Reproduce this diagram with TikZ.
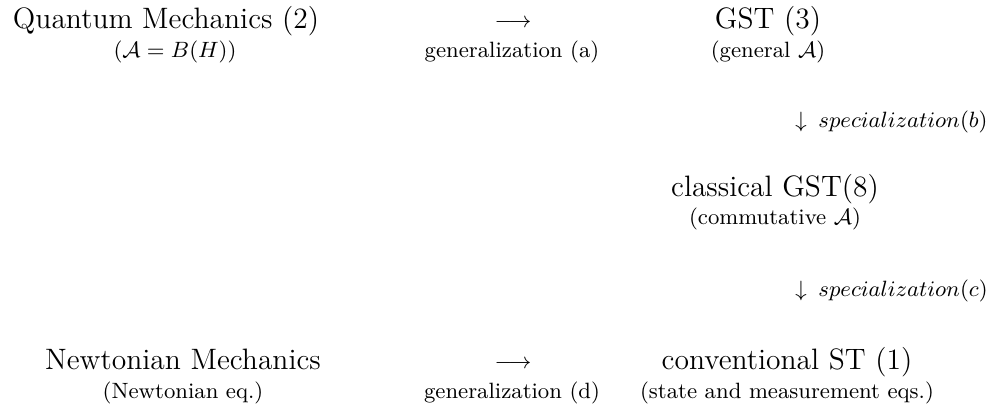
\documentclass[tikz,border=0pt]{standalone}
\usepackage{amsmath}
\begin{document}
\begin{tikzpicture}[x=0.4065pt, y=-0.4065pt,
  mainlbl/.style={anchor=base, inner sep=0pt, font=\fontsize{12}{14}\selectfont},
  sublbl/.style={anchor=base, inner sep=0pt, font=\fontsize{9}{11}\selectfont},
  arrowlbl/.style={inner sep=0pt, font=\fontsize{9}{11}\selectfont}]
\useasboundingbox (0,0) rectangle (988,407);

% top row
\node[mainlbl] (qm) at (166,28) {Quantum Mechanics (2)};
\node[sublbl] (qmsub) at (175,57) {$(\mathcal{A}=B(H))$};
\node[arrowlbl] (ga) at (513,23) {$\longrightarrow$};
\node[sublbl] (galbl) at (512,57) {generalization (a)};
\node[mainlbl] (gst) at (768,28) {GST (3)};
\node[sublbl] (gstsub) at (768,57) {(general $\mathcal{A}$)};

% specialization (b)
\node[arrowlbl] (sb) at (801,122) {$\downarrow$};
\node[sublbl, anchor=base west] (sblbl) at (818,127) {$specialization(b)$};

% middle row
\node[mainlbl] (cgst) at (775,196) {classical GST(8)};
\node[sublbl] (cgstsub) at (775,224) {(commutative $\mathcal{A}$)};

% specialization (c)
\node[arrowlbl] (sc) at (801,291) {$\downarrow$};
\node[sublbl, anchor=base west] (sclbl) at (818,296) {$specialization(c)$};

% bottom row
\node[mainlbl] (nm) at (183,369) {Newtonian Mechanics};
\node[sublbl] (nmsub) at (183,398) {(Newtonian eq.)};
\node[arrowlbl] (gd) at (513,364) {$\longrightarrow$};
\node[sublbl] (gdlbl) at (512,398) {generalization (d)};
\node[mainlbl] (cst) at (787,369) {conventional ST (1)};
\node[sublbl] (cstsub) at (787,398) {(state and measurement eqs.)};
\end{tikzpicture}
\end{document}
